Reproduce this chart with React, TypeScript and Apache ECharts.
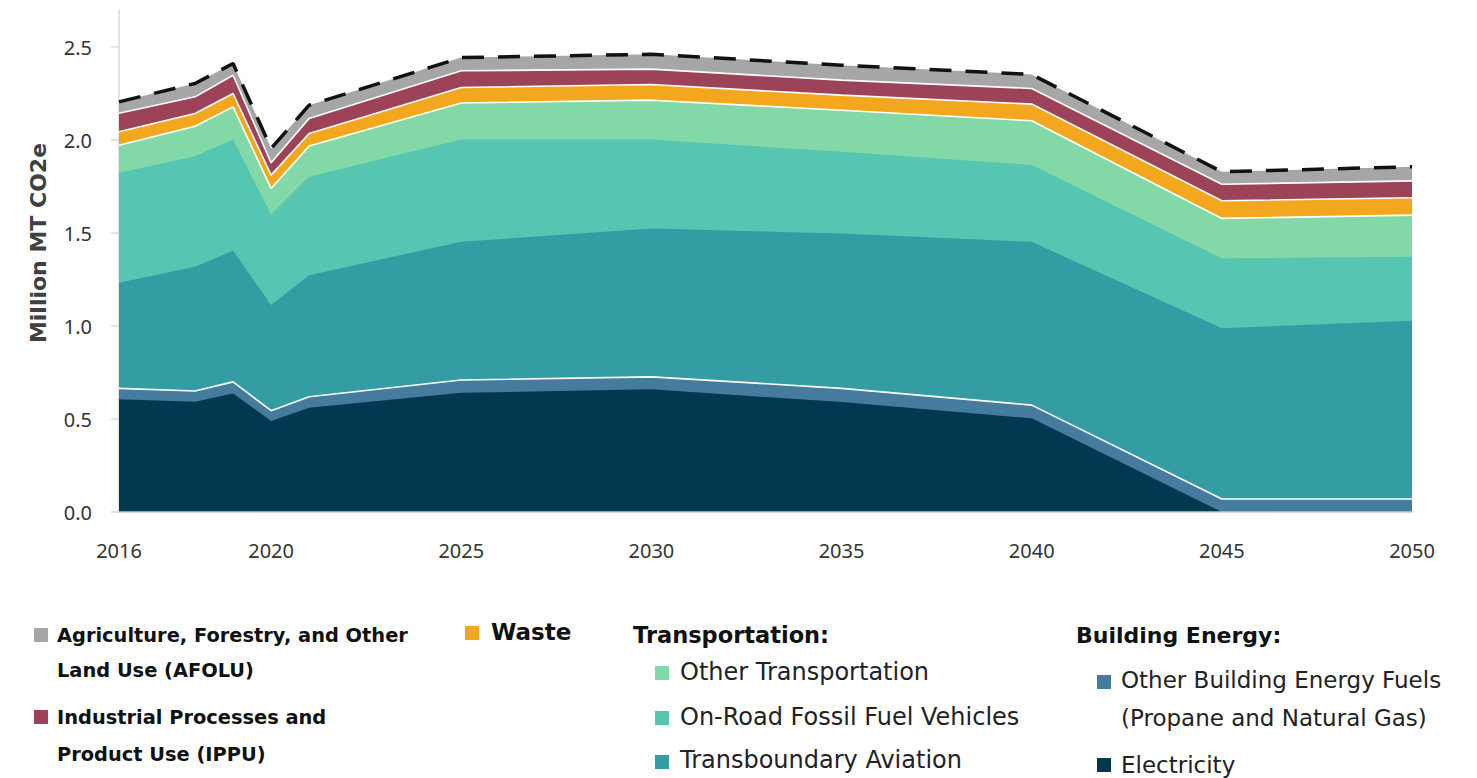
import React, { useEffect, useRef } from "react";
import * as echarts from "echarts";

const years = [2016, 2018, 2019, 2020, 2021, 2025, 2030, 2035, 2040, 2045, 2050];

const electricity = [0.607, 0.593, 0.638, 0.489, 0.561, 0.641, 0.66, 0.591, 0.504, 0, 0];
const otherBuilding = [0.058, 0.058, 0.062, 0.056, 0.059, 0.069, 0.067, 0.074, 0.071, 0.07, 0.07];
const aviation = [0.568, 0.668, 0.705, 0.568, 0.654, 0.743, 0.798, 0.833, 0.878, 0.918, 0.959];
const onRoad = [0.591, 0.595, 0.598, 0.487, 0.529, 0.551, 0.479, 0.439, 0.413, 0.376, 0.344];
const otherTransport = [0.149, 0.161, 0.176, 0.14, 0.165, 0.196, 0.211, 0.224, 0.238, 0.215, 0.224];
const waste = [0.072, 0.068, 0.072, 0.072, 0.068, 0.083, 0.084, 0.081, 0.09, 0.095, 0.093];
const ippu = [0.1, 0.09, 0.098, 0.066, 0.081, 0.09, 0.083, 0.081, 0.084, 0.089, 0.091];
const afolu = [0.061, 0.072, 0.063, 0.077, 0.071, 0.071, 0.08, 0.08, 0.075, 0.067, 0.076];

const yTicks = [0, 0.5, 1, 1.5, 2, 2.5];
const xTicks = [2016, 2020, 2025, 2030, 2035, 2040, 2045, 2050];

const COLORS = {
  electricity: "#023850",
  otherBuilding: "#457B9D",
  aviation: "#349DA3",
  onRoad: "#56C5B1",
  otherTransport: "#82D9A7",
  waste: "#F3A71F",
  ippu: "#9C4359",
  afolu: "#A6A6A6",
};

const AXIS_FONT = "'Noto Sans', sans-serif";
const FONT = "'DejaVu Sans', sans-serif";

export default function App() {
  const ref = useRef<HTMLDivElement>(null);

  useEffect(() => {
    const chart = echarts.init(ref.current!, null, { renderer: "svg" });

    // bottom-to-top layers
    const layers = [
      { name: "Electricity", values: electricity, color: COLORS.electricity, line: { width: 0 } as any },
      { name: "Other Building Energy Fuels (Propane and Natural Gas)", values: otherBuilding, color: COLORS.otherBuilding, line: { color: "#ffffff", width: 1.6 } },
      { name: "Transboundary Aviation", values: aviation, color: COLORS.aviation, line: { width: 0 } },
      { name: "On-Road Fossil Fuel Vehicles", values: onRoad, color: COLORS.onRoad, line: { width: 0 } },
      { name: "Other Transportation", values: otherTransport, color: COLORS.otherTransport, line: { color: "#ffffff", width: 1.6 } },
      { name: "Waste", values: waste, color: COLORS.waste, line: { color: "#ffffff", width: 1.6 } },
      { name: "Industrial Processes and Product Use (IPPU)", values: ippu, color: COLORS.ippu, line: { color: "#ffffff", width: 1.6 } },
      { name: "Agriculture, Forestry, and Other Land Use (AFOLU)", values: afolu, color: COLORS.afolu, line: { color: "#111111", width: 3.5, type: [22, 14] } },
    ];

    // cumulative tops (stacking done here; each area filled from 0, top layer drawn first)
    const running = years.map(() => 0);
    const stacked = layers.map((l) => {
      const tops = l.values.map((v, i) => (running[i] = +(running[i] + v).toFixed(4)));
      return { ...l, tops };
    });

    const series = stacked
      .slice()
      .reverse()
      .map((l) => ({
        name: l.name,
        type: "line",
        symbol: "none",
        data: years.map((y, i) => [y, l.tops[i]]),
        lineStyle: l.line,
        itemStyle: { color: l.color },
        areaStyle: { color: l.color, opacity: 1, origin: "start" },
      }));

    const boldText = (text: string, x: number, y: number, size = 19.4) => ({
      type: "text",
      x,
      y,
      style: {
        text,
        font: `bold ${size}px ${FONT}`,
        fill: "#111111",
        verticalAlign: "middle",
        align: "left",
      },
    });
    const regText = (text: string, x: number, y: number, size = 23) => ({
      type: "text",
      x,
      y,
      style: {
        text,
        font: `${size}px ${FONT}`,
        fill: "#222222",
        verticalAlign: "middle",
        align: "left",
      },
    });
    const sq = (x: number, y: number, c: string) => ({
      type: "rect",
      shape: { x, y, width: 14, height: 14 },
      style: { fill: c },
    });

    const graphic = [
      {
        type: "text",
        x: 38,
        y: 243,
        rotation: Math.PI / 2,
        style: {
          text: "Million MT CO2e",
          font: `bold 22px ${FONT}`,
          fill: "#404040",
          align: "center",
          verticalAlign: "middle",
        },
      },
      sq(34, 628, COLORS.afolu),
      boldText("Agriculture, Forestry, and Other", 57, 635),
      boldText("Land Use (AFOLU)", 57, 670),
      sq(34, 710, COLORS.ippu),
      boldText("Industrial Processes and", 57, 717),
      boldText("Product Use (IPPU)", 57, 754),
      sq(465, 626, COLORS.waste),
      boldText("Waste", 491, 632, 23),
      boldText("Transportation:", 633, 635, 22.5),
      sq(655, 666, COLORS.otherTransport),
      regText("Other Transportation", 680, 672, 24),
      sq(655, 711, COLORS.onRoad),
      regText("On-Road Fossil Fuel Vehicles", 680, 717, 24),
      sq(655, 755, COLORS.aviation),
      regText("Transboundary Aviation", 680, 760, 24),
      boldText("Building Energy:", 1076, 635, 22),
      sq(1097, 675, COLORS.otherBuilding),
      regText("Other Building Energy Fuels", 1121, 680),
      regText("(Propane and Natural Gas)", 1121, 718),
      sq(1097, 758, COLORS.electricity),
      regText("Electricity", 1121, 765),
    ];

    chart.setOption({
      animation: false,
      backgroundColor: "#ffffff",
      textStyle: { fontFamily: AXIS_FONT },
      grid: { left: 119, right: 65, top: 10, bottom: 266, containLabel: false },
      xAxis: {
        type: "value",
        min: 2016,
        max: 2050,
        z: 10,
        axisLine: { show: true, lineStyle: { color: "#c8c8c8", width: 1.5 } },
        axisTick: { show: false },
        splitLine: { show: false },
        axisLabel: {
          customValues: xTicks,
          color: "#333333",
          fontSize: 20,
          margin: 28,
          fontFamily: AXIS_FONT,
          formatter: (v: number) => String(v),
        },
      },
      yAxis: {
        type: "value",
        min: 0,
        max: 2.7,
        axisLine: { show: true, lineStyle: { color: "#d9d9d9", width: 1.5 } },
        axisTick: {
          show: true,
          length: 8,
          customValues: yTicks,
          lineStyle: { color: "#d9d9d9", width: 1.5 },
        },
        splitLine: { show: false },
        axisLabel: {
          customValues: yTicks,
          color: "#333333",
          fontSize: 20,
          margin: 27,
          fontFamily: AXIS_FONT,
          formatter: (v: number) => v.toFixed(1),
        },
      },
      series,
      graphic,
    });

    return () => chart.dispose();
  }, []);

  return (
    <div
      ref={ref}
      style={{ position: "absolute", left: 0, top: 0, width: 1477, height: 778 }}
    />
  );
}
